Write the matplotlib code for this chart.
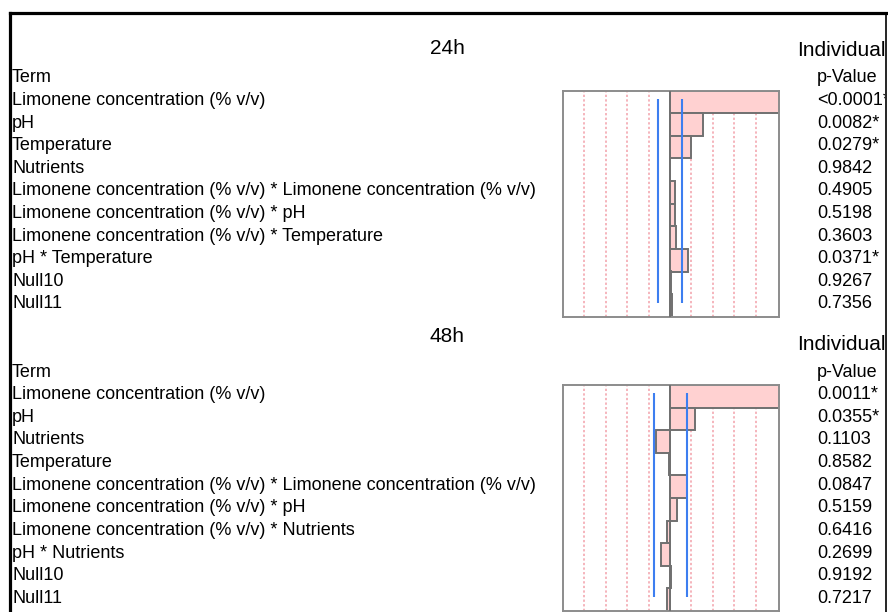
import numpy as np
import matplotlib
matplotlib.use("Agg")
import matplotlib.pyplot as plt
from matplotlib.lines import Line2D

plt.rcParams['font.family'] = ['Liberation Sans', 'DejaVu Sans']

# 24h model terms
terms_24h = [
    "Limonene concentration (% v/v)",
    "pH",
    "Temperature",
    "Nutrients",
    "Limonene concentration (% v/v) * Limonene concentration (% v/v)",
    "Limonene concentration (% v/v) * pH",
    "Limonene concentration (% v/v) * Temperature",
    "pH * Temperature",
    "Null10",
    "Null11",
]
pvalues_24h = ["<0.0001*", "0.0082*", "0.0279*", "0.9842", "0.4905",
               "0.5198", "0.3603", "0.0371*", "0.9267", "0.7356"]
effects_24h = [5.5, 1.55, 1.0, 0.02, 0.23, 0.22, 0.3, 0.85, 0.03, 0.1]
limits_24h = [-0.56, 0.58]

# 48h model terms
terms_48h = [
    "Limonene concentration (% v/v)",
    "pH",
    "Nutrients",
    "Temperature",
    "Limonene concentration (% v/v) * Limonene concentration (% v/v)",
    "Limonene concentration (% v/v) * pH",
    "Limonene concentration (% v/v) * Nutrients",
    "pH * Nutrients",
    "Null10",
    "Null11",
]
pvalues_48h = ["0.0011*", "0.0355*", "0.1103", "0.8582", "0.0847",
               "0.5159", "0.6416", "0.2699", "0.9192", "0.7217"]
effects_48h = [5.5, 1.16, -0.66, -0.03, 0.78, 0.31, -0.16, -0.43, 0.05, -0.16]
limits_48h = [-0.75, 0.78]

W, H = 888, 612
ROW = 22.6
PINK = '#FFD1D1'
EDGE = '#707070'
GRID = '#F2A0AA'
BLUE = '#3D7EF0'

fig = plt.figure(figsize=(W / 100, H / 100), dpi=100)

# overlay in pixel units for the text columns and the frame
ov = fig.add_axes([0, 0, 885 / W, 1])
ov.set_xlim(0, 885)
ov.set_ylim(H, 0)
ov.axis('off')


def panel(top, title, terms, pvalues, effects, limits, title_y, indiv_y):
    # bar chart box
    box_h = ROW * len(terms)
    ax = fig.add_axes([563 / W, 1 - (top + box_h) / H, 216 / W, box_h / H])
    rows = np.arange(len(terms))
    ax.set_xlim(-5.0, 5.09)
    ax.set_ylim(len(terms) - 0.5, -0.5)
    for g in [-4, -3, -2, -1, 1, 2, 3, 4]:
        ax.axvline(g, color=GRID, lw=1.1, ls=(0, (1.5, 1.5)), zorder=1)
    ax.barh(rows, effects, height=1.0, color=PINK, edgecolor=EDGE,
            linewidth=1.4, zorder=2)
    ax.axvline(0, color=EDGE, lw=1.4, zorder=3)
    ax.vlines(limits, -0.13, len(terms) - 1.11, color=BLUE, lw=1.5, zorder=4)
    ax.set_xticks([])
    ax.set_yticks([])
    for s in ax.spines.values():
        s.set_color('#8c8c8c')
        s.set_linewidth(1.4)

    # texts
    kw = dict(fontsize=13, va='center', clip_on=True)
    ov.text(447, title_y, title, fontsize=15, ha='center', va='center')
    ov.text(797, indiv_y, "Individual", fontsize=15, ha='left', va='center', clip_on=True)
    y0 = top - ROW / 2 - 1.5
    ov.text(12, y0, "Term", ha='left', **kw)
    ov.text(817, y0, "p-Value", ha='left', **kw)
    for i, (t, p) in enumerate(zip(terms, pvalues)):
        y = top + (i + 0.5) * ROW - 1.5
        ov.text(12, y, t, ha='left', **kw)
        ov.text(817, y, p, ha='left', **kw)


panel(90.7, "24h", terms_24h, pvalues_24h, effects_24h, limits_24h, 48, 50)
panel(385.0, "48h", terms_48h, pvalues_48h, effects_48h, limits_48h, 337, 344)

# black outer frame
fig.add_artist(Line2D([10 / W, 1], [1 - 13 / H, 1 - 13 / H], color='black', lw=2.3))
fig.add_artist(Line2D([10 / W, 10 / W], [0, 1 - 13 / H], color='black', lw=2.3))
fig.add_artist(Line2D([885.5 / W, 885.5 / W], [0, 1 - 13 / H], color='black', lw=1.2))

fig.savefig("out.png", dpi=100)
